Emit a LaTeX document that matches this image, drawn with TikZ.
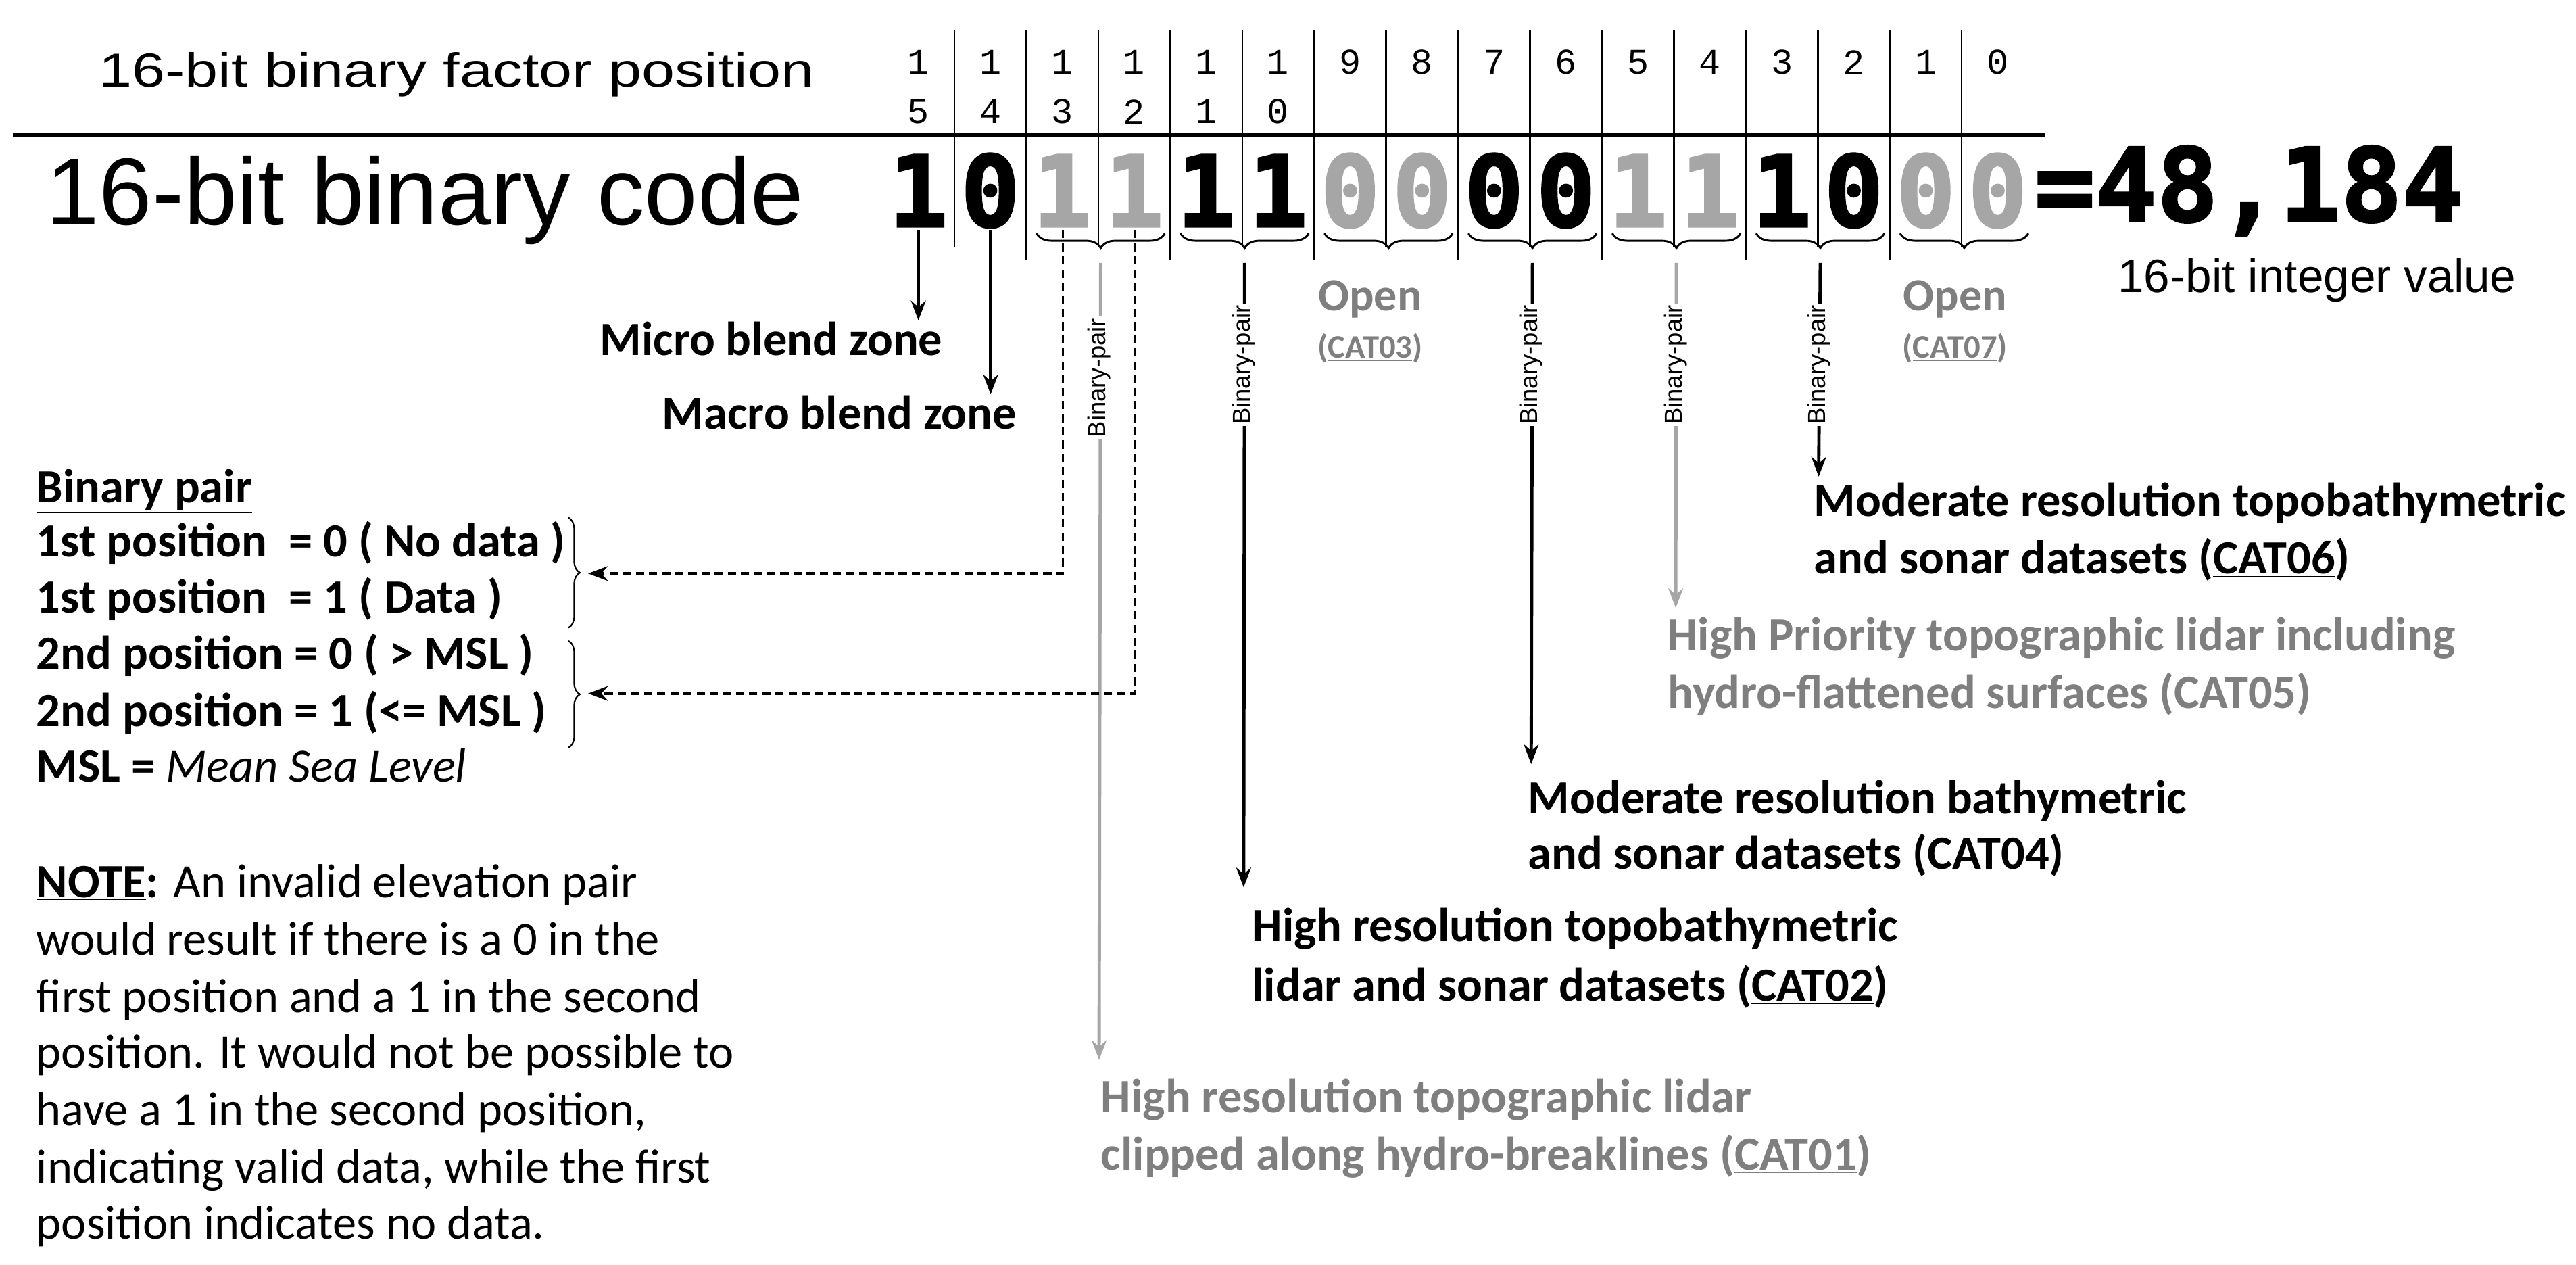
\documentclass[tikz,border=0pt]{standalone}
\usepackage{fontspec}
\setmainfont{Carlito}
\newfontfamily\arialf{Liberation Sans}
\newfontfamily\monob{DejaVu Sans Mono}[FakeBold=2]
\newfontfamily\monot{Liberation Mono}
\usetikzlibrary{decorations.pathreplacing,arrows.meta}
\definecolor{gtext}{HTML}{7F7F7F}
\definecolor{gline}{HTML}{A6A6A6}
\begin{document}
\begin{tikzpicture}[x=1pt,y=-1pt,
  sep/.style={line width=1pt},
  big/.style={font=\monob\fontsize{60}{60}\selectfont\bfseries,inner sep=0},
  posn/.style={font=\monot\fontsize{22}{22}\selectfont,inner sep=0},
  lbl/.style={font=\fontsize{29}{29}\selectfont\bfseries,anchor=base west,inner sep=0},
  txt/.style={font=\fontsize{29}{29}\selectfont,anchor=base west,inner sep=0},
  arr/.style={line width=2pt,-{Stealth[length=12pt,width=9pt]}},
  bp/.style={font=\arialf\fontsize{15}{15}\selectfont,rotate=90,fill=white,inner sep=1pt},
  brc/.style={decorate,decoration={brace,amplitude=9pt,mirror},line width=1.2pt}]
\useasboundingbox (0,0) rectangle (1568,769.5);
% top rule
\draw[line width=3pt] (8,82) -- (1245,82);
\node[anchor=base west,inner sep=0,xscale=1.25,font=\arialf\fontsize{29}{29}\selectfont] (fp) at (60,53) {16-bit binary factor position};
\node[anchor=base west,inner sep=0,font=\arialf\fontsize{58}{58}\selectfont] (bc) at (28,137) {16-bit binary code};
% separators
\foreach \k in {1,...,15}{
  \pgfmathsetmacro\xx{537.1+\k*43.8}
  \pgfmathtruncatemacro\odd{mod(\k,2)}
  \ifnum\odd=0 \draw[sep] (\xx,18) -- (\xx,158); \else \draw[sep] (\xx,18) -- (\xx,150); \fi
}
% position numbers and bits
\foreach \i/\d/\c in {15/1/black,14/0/black,13/1/gline,12/1/gline,11/1/black,10/1/black,9/0/gline,8/0/gline,7/0/black,6/0/black,5/1/gline,4/1/gline,3/1/black,2/0/black,1/0/gline,0/0/gline}{
  \pgfmathsetmacro\xx{559+(15-\i)*43.8}
  \node[big,text=\c] (b\i) at (\xx,116) {\d};
  \ifnum\i>9
    \pgfmathtruncatemacro\u{\i-10}
    \node[posn] (pt\i) at (\xx,38) {1};
    \node[posn] (pu\i) at (\xx,68) {\u};
  \else
    \node[posn] (pt\i) at (\xx,38) {\i};
  \fi
}
\node[anchor=west,inner sep=0,font=\monob\fontsize{62}{62}\selectfont\bfseries] (val) at (1238,116) {=48,184};
\node[anchor=base west,inner sep=0,font=\arialf\fontsize{28.5}{28.5}\selectfont] (iv) at (1289,178) {16-bit integer value};
% braces under pairs
\foreach \p in {0,...,6}{
  \pgfmathsetmacro\xa{631+\p*87.6}
  \pgfmathsetmacro\xb{\xa+78}
  \draw[brc] (\xa,142) -- (\xb,142);
  \pgfmathsetmacro\xm{\xa+39}
  \coordinate (tip\p) at (\xm,160);
}
% blend zones
\node[lbl] (micro) at (365,216) {Micro blend zone};
\node[lbl] (macro) at (403,261) {Macro blend zone};
\coordinate (s15) at (559,140);
\coordinate (s14) at (603,140);
\coordinate (t15) at (559,195);
\coordinate (t14) at (603,240);
\draw[arr] (s15) -- (t15);
\draw[arr] (s14) -- (t14);
% open labels
\node[font=\fontsize{28}{28}\selectfont\bfseries,text=gtext,inner sep=0] (o1) at (834,182) {Open};
\node[font=\fontsize{20}{20}\selectfont\bfseries,text=gtext,inner sep=0] (c1) at (834,212) {(\underline{CAT03})};
\node[font=\fontsize{28}{28}\selectfont\bfseries,text=gtext,inner sep=0] (o2) at (1190,182) {Open};
\node[font=\fontsize{20}{20}\selectfont\bfseries,text=gtext,inner sep=0] (c2) at (1190,212) {(\underline{CAT07})};
% binary-pair lines
\coordinate (e0) at (669,645);
\coordinate (e1) at (757,540);
\coordinate (e3) at (932,465);
\coordinate (e4) at (1020,370);
\coordinate (e5) at (1107,290);
\draw[arr,gline] (tip0) -- (e0);
\draw[arr] (tip1) -- (e1);
\draw[arr] (tip3) -- (e3);
\draw[arr,gline] (tip4) -- (e4);
\draw[arr] (tip5) -- (e5);
\node[bp] (bp0) at (669,230) {Binary-pair};
\node[bp] (bp1) at (757,222) {Binary-pair};
\node[bp] (bp3) at (932,222) {Binary-pair};
\node[bp] (bp4) at (1020,222) {Binary-pair};
\node[bp] (bp5) at (1107,222) {Binary-pair};
% category texts
\node[lbl] (cat6a) at (1104,314) {Moderate resolution topobathymetric};
\node[lbl] (cat6b) at (1104,349) {and sonar datasets (\underline{CAT06})};
\node[lbl,text=gtext] (cat5a) at (1015,396) {High Priority topographic lidar including};
\node[lbl,text=gtext] (cat5b) at (1015,431) {hydro-flattened surfaces (\underline{CAT05})};
\node[lbl] (cat4a) at (930,495) {Moderate resolution bathymetric};
\node[lbl] (cat4b) at (930,529) {and sonar datasets (\underline{CAT04})};
\node[lbl] (cat2a) at (762,573) {High resolution topobathymetric};
\node[lbl] (cat2b) at (762,609) {lidar and sonar datasets (\underline{CAT02})};
\node[lbl,text=gtext] (cat1a) at (670,677) {High resolution topographic lidar};
\node[lbl,text=gtext] (cat1b) at (670,712) {clipped along hydro-breaklines (\underline{CAT01})};
% left legend
\node[lbl] (l0) at (22,306) {\underline{Binary pair}};
\node[lbl] (l1) at (22,339) {1st position\ \ = 0 ( No data )};
\node[lbl] (l2) at (22,373) {1st position\ \ = 1 ( Data )};
\node[lbl] (l3) at (22,407) {2nd position = 0 ( > MSL )};
\node[lbl] (l4) at (22,442) {2nd position = 1 (<= MSL )};
\node[lbl] (l5) at (22,476) {MSL = \textmd{\itshape Mean Sea Level}};
\draw[decorate,decoration={brace,amplitude=7pt},line width=0.9pt] (346,315) -- (346,382);
\draw[decorate,decoration={brace,amplitude=7pt},line width=0.9pt] (346,390) -- (346,455);
\coordinate (la) at (358,349);
\coordinate (lb) at (358,422);
\coordinate (da) at (647,140);
\coordinate (db) at (691,140);
\draw[arr,dash pattern=on 5pt off 3pt,line width=1.6pt] (da) |- (la);
\draw[arr,dash pattern=on 5pt off 3pt,line width=1.6pt] (db) |- (lb);
% note
\node[txt] (n1) at (22,546) {\textbf{\underline{NOTE}:} An invalid elevation pair};
\node[txt] (n2) at (22,581) {would result if there is a 0 in the};
\node[txt] (n3) at (22,616) {first position and a 1 in the second};
\node[txt] (n4) at (22,650) {position. It would not be possible to};
\node[txt] (n5) at (22,685) {have a 1 in the second position,};
\node[txt] (n6) at (22,720) {indicating valid data, while the first};
\node[txt] (n7) at (22,754) {position indicates no data.};
\end{tikzpicture}
\end{document}
